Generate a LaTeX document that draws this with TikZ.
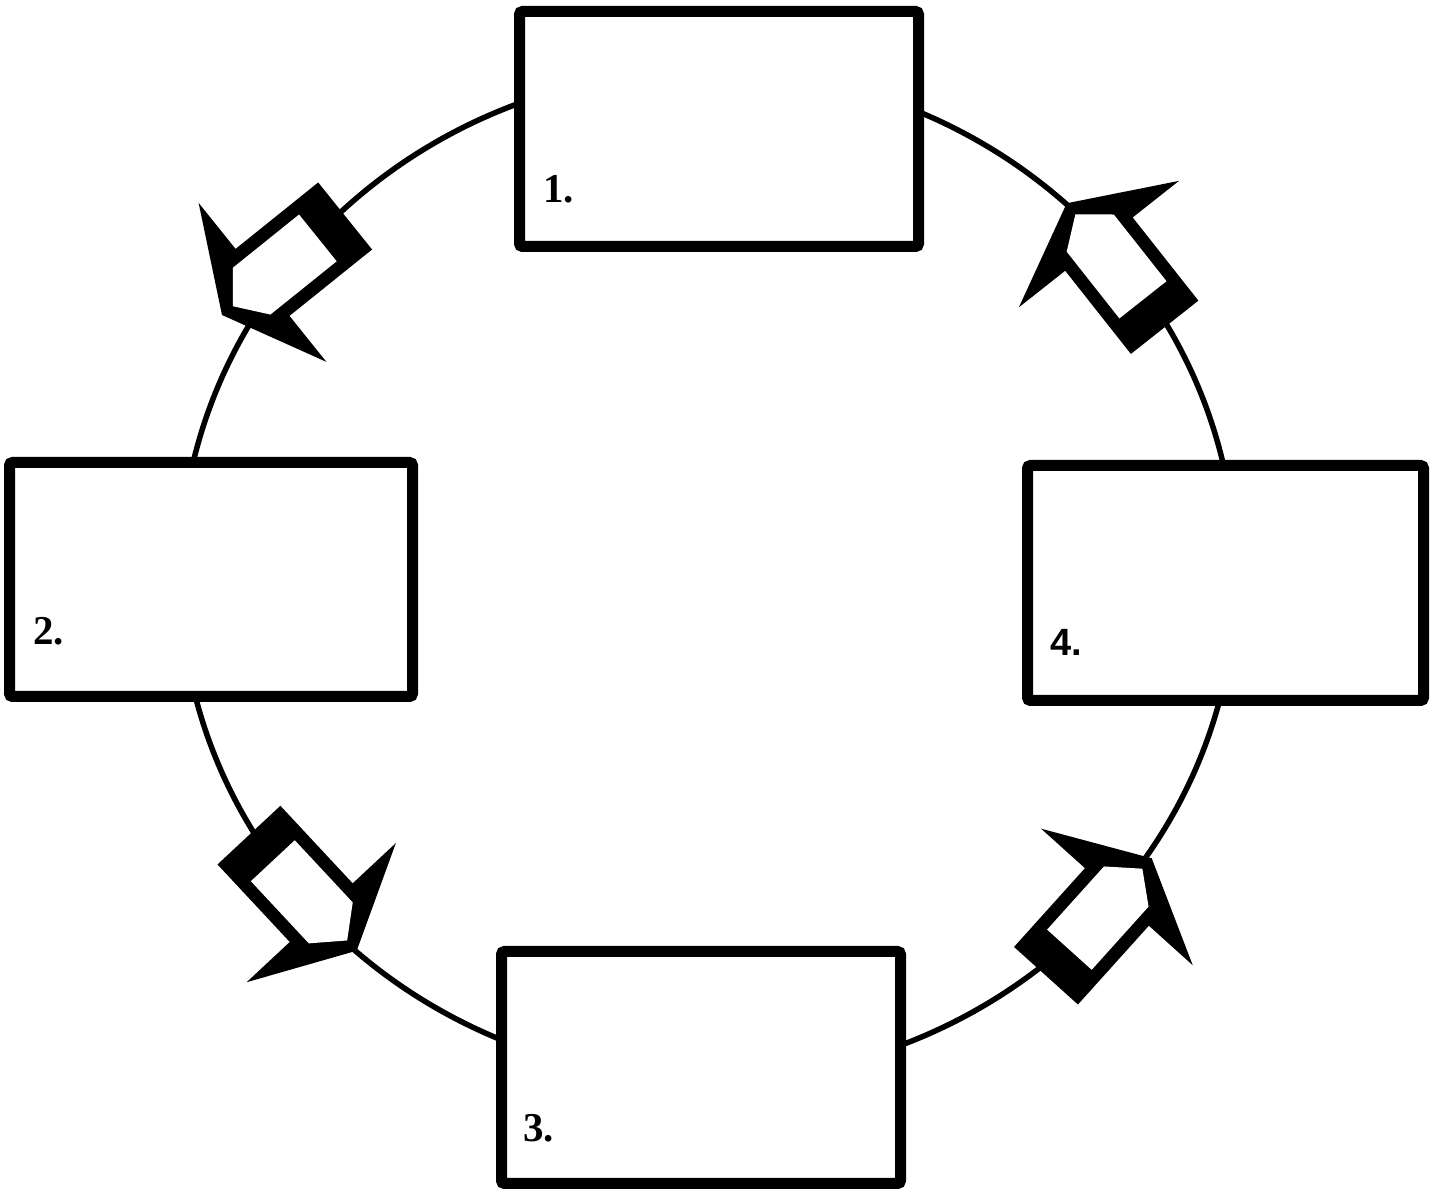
\documentclass[tikz,border=0pt]{standalone}
\usepackage{fontspec}
\setmainfont{Liberation Serif}
\newfontfamily\lblsans{Liberation Sans}
\begin{document}
\begin{tikzpicture}[x=1pt,y=1pt,
  stagebox/.style={draw=black, fill=white, line width=11pt, rounded corners=3pt, rectangle, inner sep=0pt},
  ringline/.style={draw=black, line width=5.5pt},
  lbl/.style={anchor=base west, inner sep=0pt, font=\fontsize{41}{44}\selectfont\bfseries},
  lblsf/.style={anchor=base west, inner sep=0pt, font=\lblsans\fontsize{38}{41}\selectfont\bfseries},
  cyclearrow/.pic={
    \fill[black] (0,0) -- (-52,-102) -- (-52,-43) -- (-158,-43) -- (-158,43) -- (-52,43) -- (-52,102) -- cycle;
    \fill[white] (-14,0) -- (-38,-30) -- (-123,-30) -- (-123,30) -- (-38,30) -- cycle;
  }]
\useasboundingbox[fill=white] (0,0) rectangle (1432,1190);

% ring
\draw[ringline] (708,615) ellipse [x radius=528pt, y radius=505pt];

% arrows along the ring
\pic (arrA) [rotate=218.8] at (222,875) {cyclearrow};
\pic (arrB) [rotate=128.3] at (1066.7,986.7) {cyclearrow};
\pic (arrC) [rotate=-47] at (356.7,239.3) {cyclearrow};
\pic (arrD) [rotate=48] at (1151.7,331.7) {cyclearrow};

% boxes
\node[stagebox, minimum width=399pt, minimum height=235pt] (box1) at (719,1061) {};
\node[stagebox, minimum width=403pt, minimum height=234pt] (box2) at (211,610.5) {};
\node[stagebox, minimum width=399pt, minimum height=232pt] (box3) at (701,122.5) {};
\node[stagebox, minimum width=396pt, minimum height=235pt] (box4) at (1225.5,607) {};

% labels
\node[lbl] (lab1) at (543,987) {1.};
\node[lbl] (lab2) at (33,545) {2.};
\node[lbl] (lab3) at (523,48) {3.};
\node[lblsf] (lab4) at (1050,534) {4.};
\end{tikzpicture}
\end{document}
